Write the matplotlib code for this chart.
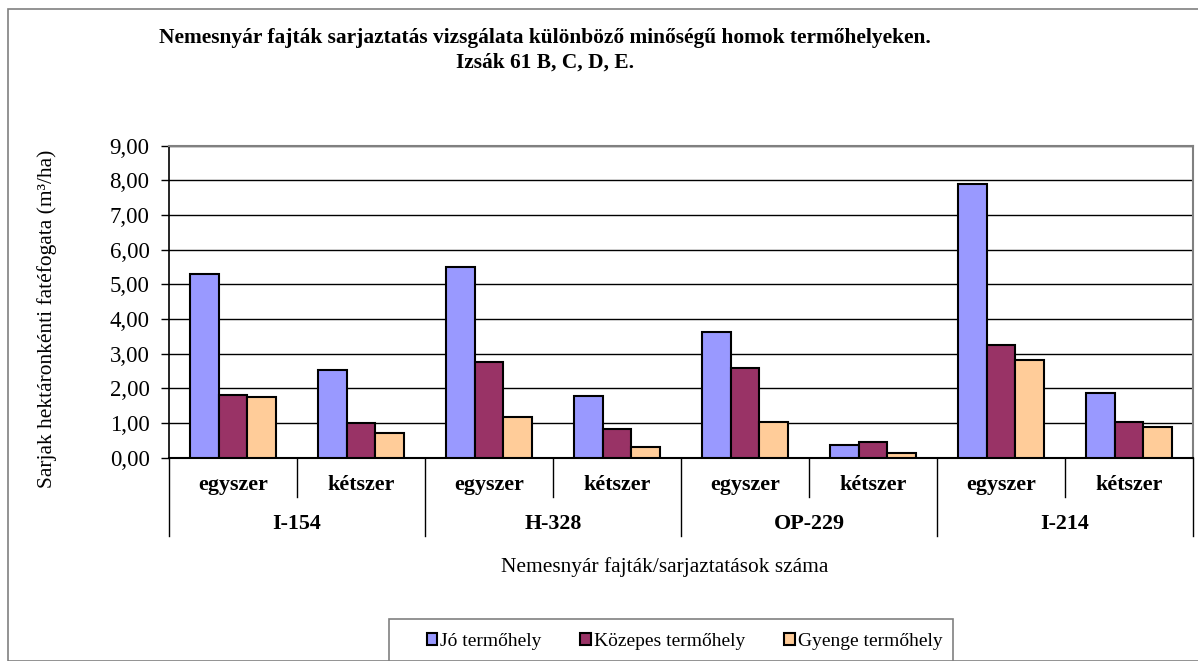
import numpy as np
import matplotlib
matplotlib.use("Agg")
import matplotlib.pyplot as plt
from matplotlib.patches import Rectangle

plt.rcParams['font.family'] = ['Liberation Serif', 'DejaVu Serif']

# data
fajtak = ["I-154", "H-328", "OP-229", "I-214"]
sarjaztatas = ["egyszer", "kétszer"]
jo = [5.29, 2.53, 5.49, 1.78, 3.62, 0.37, 7.90, 1.86]
kozepes = [1.81, 1.01, 2.77, 0.82, 2.58, 0.45, 3.25, 1.04]
gyenge = [1.75, 0.72, 1.16, 0.30, 1.02, 0.15, 2.83, 0.89]
sorozatok = ["Jó termőhely", "Közepes termőhely", "Gyenge termőhely"]
szinek = ["#9999FF", "#993366", "#FFCC99"]

W, H = 1198, 661
fig = plt.figure(figsize=(W / 100, H / 100), dpi=100)

# outer chart border
fig.patches.append(Rectangle((8 / W, 0), 1.2, 1 - 9 / H, transform=fig.transFigure,
                             fill=False, edgecolor="#808080", lw=1.2))

left, right = 169 / W, 1193 / W
top, bottom = 1 - 145.7 / H, 1 - 457.7 / H
ax = fig.add_axes([left, bottom, right - left, top - bottom])

x = np.arange(len(jo))
bw = 0.223
for i, (vals, c, nev) in enumerate(zip([jo, kozepes, gyenge], szinek, sorozatok)):
    ax.bar(x + (i - 1) * bw, vals, bw, color=c, edgecolor="black", lw=1.5,
           label=nev, zorder=3)

ax.set_xlim(-0.5, len(jo) - 0.5)
ax.set_ylim(0, 9)
ax.set_yticks(np.arange(0, 10, 1))
ax.set_yticklabels([f"{v:.2f}".replace(".", ",") for v in np.arange(0, 10, 1)], fontsize=16.5)
ax.tick_params(axis="y", length=6, width=1, direction="out", pad=8)
ax.set_xticks([])
ax.yaxis.grid(True, color="black", lw=1, zorder=0)
for s in ["top", "right"]:
    ax.spines[s].set_color("#808080")
    ax.spines[s].set_linewidth(1.5)
ax.spines["left"].set_linewidth(1.2)
ax.spines["bottom"].set_linewidth(1.5)

# two-level category axis
tr = ax.get_xaxis_transform()
ah = 312.0
for k in range(len(jo)):
    ax.text(k, -(485 - 457.7) / ah, sarjaztatas[k % 2], transform=tr, ha="center",
            va="center", fontsize=15.8, fontweight="bold")
for g in range(len(fajtak)):
    ax.text(2 * g + 0.5, -(524 - 457.7) / ah, fajtak[g], transform=tr, ha="center",
            va="center", fontsize=15.8, fontweight="bold")
for k in range(len(jo) + 1):
    low = (536 - 457.7) / ah if k % 2 == 0 else (497 - 457.7) / ah
    ax.plot([k - 0.5, k - 0.5], [0, -low], transform=tr, color="black", lw=1,
            clip_on=False)

fig.text(47 / W, 1 - 319 / H, "Sarjak hektáronkénti fatéfogata (m³/ha)",
         rotation=90, ha="center", va="center", fontsize=15.4)

fig.text(545 / W, 1 - 38 / H,
         "Nemesnyár fajták sarjaztatás vizsgálata különböző minőségű homok termőhelyeken.",
         ha="center", va="center", fontsize=15.4, fontweight="bold")
fig.text(545 / W, 1 - 63 / H, "Izsák 61 B, C, D, E.", ha="center", va="center",
         fontsize=15.4, fontweight="bold")
fig.text(665 / W, 1 - 567 / H, "Nemesnyár fajták/sarjaztatások száma", ha="center",
         va="center", fontsize=15.4)

# legend box drawn separately so the entries can sit further right
fig.patches.append(Rectangle((389 / W, -0.05), (953 - 389) / W, 0.05 + 1 - 619 / H,
                             transform=fig.transFigure, fill=False,
                             edgecolor="#808080", lw=1.2))
leg = fig.legend(loc="upper left", bbox_to_anchor=(413 / W, 1 - 619 / H), ncol=3,
                 fontsize=14, frameon=False,
                 handlelength=0.55, handleheight=0.55, handletextpad=0.15,
                 columnspacing=2.0, borderpad=0.7, borderaxespad=0)

fig.savefig("out.png", dpi=100)
